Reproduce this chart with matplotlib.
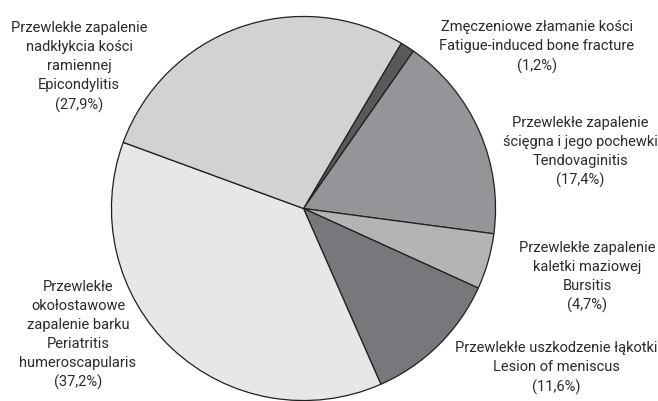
import matplotlib
matplotlib.use('Agg')
import matplotlib.pyplot as plt

plt.rcParams['font.family'] = ['Roboto', 'DejaVu Sans']

shares = [1.2, 17.4, 4.7, 11.6, 37.2, 27.9]
labels = [
    'Zmęczeniowe złamanie kości\nFatigue-induced bone fracture\n(1,2%)',
    'Przewlekłe zapalenie\nścięgna i jego pochewki\nTendovaginitis\n(17,4%)',
    'Przewlekłe zapalenie\nkaletki maziowej\nBursitis\n(4,7%)',
    'Przewlekłe uszkodzenie łąkotki\nLesion of meniscus\n(11,6%)',
    'Przewlekłe\nokołostawowe\nzapalenie barku\nPeriatritis\nhumeroscapularis\n(37,2%)',
    'Przewlekłe zapalenie\nnadkłykcia kości\nramiennej\nEpicondylitis\n(27,9%)',
]
colors = ['#58595b', '#939598', '#b3b4b6', '#77787b', '#e6e7e8', '#d1d2d4']
# label centres in pixels (x, y from top)
label_pos = [(537, 47), (580, 152), (587, 277), (556, 368), (78, 335), (79, 67)]

W, H = 658, 402
fig = plt.figure(figsize=(W / 100, H / 100), dpi=100)
cx, cy, r = 303.5, 209.5, 193
ax = fig.add_axes([(cx - r) / W, (H - cy - r) / H, 2 * r / W, 2 * r / H])
ax.pie(shares, colors=colors, startangle=59.4, counterclock=False,
       wedgeprops=dict(edgecolor='#231f20', linewidth=0.9))
ax.set_xlim(-1.005, 1.005)
ax.set_ylim(-1.005, 1.005)
ax.set_aspect('equal')
ax.axis('off')

for txt, (x, y) in zip(labels, label_pos):
    fig.text(x / W, 1 - y / H, txt, ha='center', va='center',
             fontsize=10.5, color='#2b2b2b', linespacing=1.45)

fig.savefig('out.png', dpi=100)
